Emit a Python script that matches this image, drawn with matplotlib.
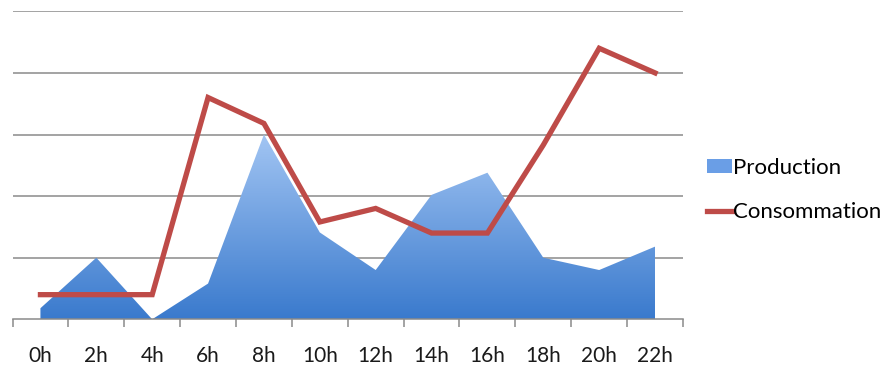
import matplotlib
matplotlib.use("Agg")
import matplotlib.pyplot as plt
import numpy as np
from matplotlib.patches import Patch
from matplotlib.lines import Line2D
from matplotlib.colors import LinearSegmentedColormap

hours = ["0h", "2h", "4h", "6h", "8h", "10h", "12h", "14h", "16h", "18h", "20h", "22h"]
production = [0.18, 1.0, 0.0, 0.58, 3.0, 1.41, 0.8, 2.02, 2.38, 1.0, 0.8, 1.18]
consommation = [0.4, 0.4, 0.4, 3.6, 3.18, 1.58, 1.8, 1.4, 1.4, 2.83, 4.4, 4.0]

plt.rcParams['font.family'] = ['Lato', 'DejaVu Sans']

fig = plt.figure(figsize=(8.92, 3.67), dpi=100)
ax = fig.add_axes([12.5 / 892, (367 - 319.3) / 367, (683 - 12.5) / 892, (319.3 - 11.3) / 367])

x = np.arange(len(hours))

# Horizontal gridlines
for yv in range(1, 6):
    ax.axhline(yv, color="#8a8a8a", lw=1.1, zorder=1)

# Area with vertical gradient fill
area = ax.fill_between(x, 0, production, facecolor="none", edgecolor="none", zorder=2)
cmap = LinearSegmentedColormap.from_list("blue_grad", ["#3a7acd", "#a2c5f3"])
grad = np.linspace(0, 1, 256).reshape(-1, 1)
img = ax.imshow(grad, cmap=cmap, origin="lower", aspect="auto",
                extent=[x[0], x[-1], 0, max(production)], zorder=2)
img.set_clip_path(area.get_paths()[0], transform=ax.transData)

# Consumption line
ax.plot(x, consommation, color="#be4b48", lw=3.8, solid_joinstyle="miter", zorder=3)

ax.set_xlim(-0.5, len(hours) - 0.5)
ax.set_ylim(0, 5)

for s in ["left", "right", "top"]:
    ax.spines[s].set_visible(False)
ax.spines["bottom"].set_color("#8a8a8a")
ax.spines["bottom"].set_linewidth(1.1)
ax.spines["bottom"].set_zorder(4)

ax.set_yticks([])
ax.set_xticks(x)
ax.set_xticklabels(hours, fontsize=15, color="#1a1a1a")
ax.set_xticks(np.arange(-0.5, len(hours)), minor=True)
ax.tick_params(axis="x", which="major", length=0, pad=19)
ax.tick_params(axis="x", which="minor", length=6, color="#8a8a8a", width=1.1, direction="out")

handles = [Patch(facecolor="#6a9ee6", edgecolor="none"),
           Line2D([0], [0], color="#be4b48", lw=3.8)]
fig.legend(handles, ["Production", "Consommation"], loc="upper left",
           bbox_to_anchor=(707 / 892, 1 - 158 / 367), frameon=False,
           fontsize=16, handlelength=1.13, handleheight=0.6, handletextpad=0.05,
           labelspacing=1.1, borderpad=0, borderaxespad=0)

fig.savefig("out.png", dpi=100)
